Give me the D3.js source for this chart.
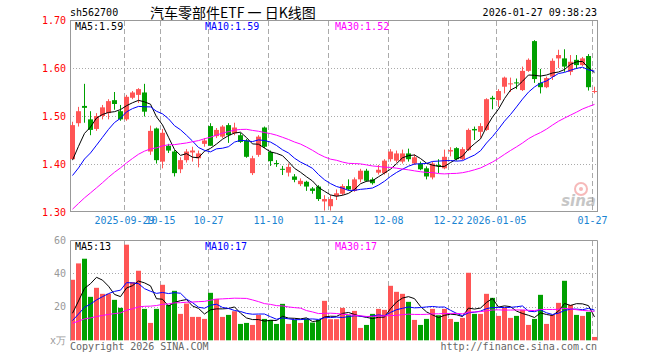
<!DOCTYPE html>
<html>
<head>
<meta charset="utf-8">
<script src="https://cdn.jsdelivr.net/npm/d3@7"></script>
<style>
  body { margin: 0; background: #fff; }
  svg text { font-family: "DejaVu Sans Mono", monospace; font-size: 10px; }
</style>
</head>
<body>
<div id="chart"></div>
<script>
'use strict';

// trading days shown
const dates = [
  '2025-09-16','2025-09-17','2025-09-18','2025-09-19','2025-09-22','2025-09-23','2025-09-24','2025-09-25','2025-09-26',
  '2025-09-29','2025-09-30','2025-10-09','2025-10-10','2025-10-13','2025-10-14','2025-10-15','2025-10-16','2025-10-17',
  '2025-10-20','2025-10-21','2025-10-22','2025-10-23','2025-10-24','2025-10-27','2025-10-28','2025-10-29','2025-10-30',
  '2025-10-31','2025-11-03','2025-11-04','2025-11-05','2025-11-06','2025-11-07','2025-11-10','2025-11-11','2025-11-12',
  '2025-11-13','2025-11-14','2025-11-17','2025-11-18','2025-11-19','2025-11-20','2025-11-21','2025-11-24','2025-11-25',
  '2025-11-26','2025-11-27','2025-11-28','2025-12-01','2025-12-02','2025-12-03','2025-12-04','2025-12-05','2025-12-08',
  '2025-12-09','2025-12-10','2025-12-11','2025-12-12','2025-12-15','2025-12-16','2025-12-17','2025-12-18','2025-12-19',
  '2025-12-22','2025-12-23','2025-12-24','2025-12-25','2025-12-26','2025-12-29','2025-12-30','2025-12-31','2026-01-05',
  '2026-01-06','2026-01-07','2026-01-08','2026-01-09','2026-01-12','2026-01-13','2026-01-14','2026-01-15','2026-01-16',
  '2026-01-19','2026-01-20','2026-01-21','2026-01-22','2026-01-23','2026-01-26','2026-01-27'
];

const opens = [
  1.410,1.485,1.521,1.493,1.473,1.500,1.506,1.533,1.510,1.493,1.538,1.544,1.549,1.426,1.474,1.405,1.438,1.426,
  1.389,1.408,1.424,1.412,1.442,1.479,1.458,1.457,1.481,1.464,1.460,1.449,1.381,1.419,1.476,1.425,1.402,1.390,
  1.382,1.374,1.358,1.363,1.349,1.353,1.322,1.312,1.333,1.338,1.354,1.344,1.368,1.386,1.368,1.382,1.381,1.410,
  1.407,1.405,1.422,1.401,1.401,1.391,1.372,1.398,1.391,1.426,1.433,1.410,1.429,1.473,1.467,1.471,1.538,1.533,
  1.561,1.566,1.570,1.554,1.594,1.656,1.569,1.560,1.582,1.620,1.620,1.592,1.617,1.606,1.625,1.550
];
const highs = [
  1.488,1.519,1.567,1.510,1.506,1.523,1.535,1.550,1.523,1.544,1.552,1.558,1.567,1.480,1.476,1.473,1.442,1.429,
  1.414,1.431,1.436,1.428,1.454,1.485,1.475,1.481,1.485,1.486,1.465,1.452,1.417,1.460,1.478,1.428,1.408,1.396,
  1.401,1.379,1.370,1.365,1.352,1.356,1.335,1.335,1.347,1.358,1.368,1.372,1.390,1.390,1.372,1.398,1.410,1.431,
  1.428,1.430,1.432,1.420,1.405,1.395,1.405,1.410,1.430,1.435,1.435,1.435,1.474,1.478,1.485,1.537,1.542,1.556,
  1.582,1.580,1.578,1.603,1.620,1.658,1.598,1.582,1.620,1.638,1.639,1.627,1.627,1.623,1.629,1.561
];
const lows = [
  1.410,1.478,1.486,1.460,1.469,1.493,1.493,1.513,1.490,1.490,1.535,1.527,1.499,1.419,1.401,1.391,1.423,1.374,
  1.381,1.403,1.405,1.393,1.436,1.438,1.454,1.454,1.444,1.460,1.444,1.413,1.377,1.415,1.433,1.396,1.394,1.377,
  1.374,1.362,1.354,1.344,1.338,1.323,1.303,1.303,1.325,1.335,1.345,1.342,1.362,1.363,1.357,1.378,1.378,1.405,
  1.403,1.401,1.405,1.398,1.387,1.368,1.368,1.381,1.389,1.416,1.407,1.408,1.427,1.450,1.455,1.469,1.514,1.519,
  1.547,1.550,1.556,1.552,1.592,1.569,1.547,1.558,1.575,1.600,1.592,1.585,1.598,1.604,1.553,1.547
];
const closes = [
  1.481,1.510,1.517,1.471,1.500,1.518,1.531,1.525,1.493,1.540,1.549,1.556,1.509,1.469,1.408,1.465,1.428,1.381,
  1.408,1.426,1.428,1.422,1.449,1.438,1.471,1.478,1.460,1.476,1.446,1.415,1.412,1.457,1.436,1.406,1.400,1.388,
  1.394,1.367,1.365,1.353,1.344,1.327,1.327,1.327,1.339,1.354,1.347,1.368,1.386,1.365,1.360,1.388,1.407,1.426,
  1.422,1.422,1.410,1.414,1.389,1.374,1.401,1.396,1.415,1.429,1.410,1.431,1.471,1.470,1.479,1.535,1.535,1.552,
  1.580,1.568,1.568,1.594,1.617,1.577,1.560,1.579,1.615,1.627,1.603,1.613,1.606,1.620,1.560,1.552
];
// volume, 10k lots
const volumes = [
  36.2,46.0,48.8,26.0,31.4,27.8,27.8,24.2,19.4,57.2,34.8,41.6,18.8,10.4,18.8,33.2,21.2,29.6,
  15.8,22.0,14.0,14.0,12.8,28.4,24.8,14.0,15.2,17.4,9.8,10.4,9.2,15.2,12.8,12.2,9.8,21.8,
  9.8,12.2,10.4,13.0,10.6,12.2,23.6,12.6,12.6,19.4,15.0,17.6,7.4,9.2,15.8,18.8,18.2,32.6,
  29.0,27.8,23.0,12.2,9.2,12.8,18.8,15.0,18.8,12.8,11.0,13.4,40.4,15.8,15.8,27.8,25.4,14.6,
  19.4,13.4,14.6,18.2,9.2,12.8,27.2,9.8,15.2,22.4,35.6,21.2,15.2,14.6,17.0,2.0
];

// the 29 sessions before the window, only needed for the moving averages
const closesBefore = [
  1.152,1.168,1.161,1.183,1.197,1.192,1.214,1.219,1.228,1.272,1.291,1.315,1.328,1.344,1.339,
  1.361,1.372,1.356,1.374,1.351,1.352,1.331,1.345,1.338,1.354,1.366,1.382,1.405,1.406
];
const volumesBefore = [
  7.5,9.1,8.4,6.8,7.9,10.2,8.8,7.1,8.6,9.4,7.7,8.3,7.2,8.0,11.4,
  13.8,10.9,12.6,14.1,10.2,6.9,8.2,7.1,6.5,8.3,9.6,10.8,12.1,12.3
];

const tickDates = ['2025-09-29','2025-10-15','2025-10-27','2025-11-10','2025-11-24','2025-12-08','2025-12-22','2026-01-05','2026-01-27'];
const tickLabels = ['2025-09-29','10-15','10-27','11-10','11-24','12-08','12-22','2026-01-05','01-27'];
const priceTicks = [1.30, 1.40, 1.50, 1.60, 1.70];
const volTicks = [20, 40, 60];

const maPeriods = [5, 10, 30];
const maColors = ['#000000', '#0000ff', '#ff00ff'];
const priceMaLabels = ['1.59', '1.59', '1.52'];
const volMaLabels = ['13', '17', '17'];

const RED = '#ff5555';
const GREEN = '#00a000';
const GRID = '#aaaaaa';
const FRAME = '#999999';

// moving average over the window, using the earlier sessions for the first points
function movingAvg(before, values, n) {
  const all = before.concat(values);
  return values.map((v, i) => d3.mean(all.slice(before.length + i - n + 1, before.length + i + 1)));
}

const svg = d3.select('#chart')
  .append('svg')
    .attr('width', 660)
    .attr('height', 360);

const x = d3.scaleBand()
    .domain(d3.range(dates.length))
    .range([70, 70 + 6 * dates.length]);
const y = d3.scaleLinear().domain([1.30, 1.70]).range([212, 20]);
const yv = d3.scaleLinear().domain([0, 60]).range([340.3, 240]);

const left = 70, right = 597;
const mid = i => x(i) + 2.5;
const up = i => closes[i] >= opens[i];

// header
svg.append('text').attr('x', 70).attr('y', 16).attr('fill', '#000').text('sh562700');
svg.append('text')
    .attr('x', 150).attr('y', 18)
    .style('font-family', '"Noto Sans CJK SC", sans-serif')
    .style('font-size', '14px')
    .attr('fill', '#000')
    .text('汽车零部件ETF 一 日K线图');
svg.append('text')
    .attr('x', right).attr('y', 16)
    .attr('text-anchor', 'end')
    .attr('fill', '#000')
    .text('2026-01-27 09:38:23');

// ---- price panel ----
const main = svg.append('g');

main.selectAll('.hgrid')
  .data(priceTicks.slice(1, -1))
  .join('line')
    .attr('x1', left).attr('x2', right)
    .attr('y1', d => Math.round(y(d)) + 0.5).attr('y2', d => Math.round(y(d)) + 0.5)
    .attr('stroke', GRID).attr('stroke-dasharray', '1,2');

const tickIdx = tickDates.map(d => dates.indexOf(d));

main.selectAll('.vgrid')
  .data(tickIdx)
  .join('line')
    .attr('x1', i => x(i) + 0.5).attr('x2', i => x(i) + 0.5)
    .attr('y1', 21).attr('y2', 211)
    .attr('stroke', GRID).attr('stroke-dasharray', '5,3');

main.append('rect')
    .attr('x', left + 0.5).attr('y', 20.5)
    .attr('width', right - left).attr('height', 191)
    .attr('fill', 'none').attr('stroke', FRAME);

main.selectAll('.ylab')
  .data(priceTicks)
  .join('text')
    .attr('x', 66).attr('y', d => y(d) + 3.5)
    .attr('text-anchor', 'end')
    .attr('fill', '#ff0000')
    .text(d => d.toFixed(2));

main.selectAll('.xlab')
  .data(tickIdx)
  .join('text')
    .attr('x', i => x(i) + 0.5).attr('y', 224)
    .attr('text-anchor', 'middle')
    .attr('fill', '#1a84d2')
    .text((d, k) => tickLabels[k]);

// sina mark
const logo = main.append('g').attr('opacity', 0.55);
logo.append('circle').attr('cx', 581).attr('cy', 189).attr('r', 6)
    .attr('fill', 'none').attr('stroke', '#f08080').attr('stroke-width', 2);
logo.append('circle').attr('cx', 581).attr('cy', 189).attr('r', 2).attr('fill', '#f08080');
logo.append('text').attr('x', 596).attr('y', 206).attr('text-anchor', 'end')
    .style('font-family', '"DejaVu Sans", sans-serif')
    .style('font-size', '15px').style('font-weight', 'bold').style('font-style', 'italic')
    .attr('fill', '#999').text('sina');

// candles
const candles = main.selectAll('.candle')
  .data(d3.range(dates.length))
  .join('g');

candles.append('line')
    .attr('x1', i => mid(i)).attr('x2', i => mid(i))
    .attr('y1', i => y(highs[i])).attr('y2', i => y(lows[i]))
    .attr('stroke', i => up(i) ? RED : GREEN);

candles.append('rect')
    .attr('x', i => x(i))
    .attr('y', i => y(Math.max(opens[i], closes[i])))
    .attr('width', 5)
    .attr('height', i => Math.max(1, Math.abs(y(opens[i]) - y(closes[i]))))
    .attr('fill', i => up(i) ? RED : GREEN);

// moving averages
const priceLine = d3.line().x((d, i) => mid(i)).y(d => y(d));
maPeriods.forEach((n, k) => {
  main.append('path')
      .attr('d', priceLine(movingAvg(closesBefore, closes, n)))
      .attr('fill', 'none')
      .attr('stroke', maColors[k])
      .attr('stroke-width', 1);
  main.append('text')
      .attr('x', 75 + k * 130).attr('y', 30)
      .attr('fill', maColors[k])
      .text(`MA${n}:${priceMaLabels[k]}`);
});

// ---- volume panel ----
const vol = svg.append('g');

vol.selectAll('.hgrid')
  .data(volTicks.slice(0, -1))
  .join('line')
    .attr('x1', left).attr('x2', right)
    .attr('y1', d => Math.round(yv(d)) + 0.5).attr('y2', d => Math.round(yv(d)) + 0.5)
    .attr('stroke', GRID).attr('stroke-dasharray', '1,2');

vol.selectAll('.vgrid')
  .data(tickIdx)
  .join('line')
    .attr('x1', i => x(i) + 0.5).attr('x2', i => x(i) + 0.5)
    .attr('y1', 241).attr('y2', 340)
    .attr('stroke', GRID).attr('stroke-dasharray', '5,3');

vol.selectAll('.bar')
  .data(d3.range(dates.length))
  .join('rect')
    .attr('x', i => x(i))
    .attr('y', i => yv(volumes[i]))
    .attr('width', 5)
    .attr('height', i => yv(0) - yv(volumes[i]))
    .attr('fill', i => up(i) ? RED : GREEN);

const volLine = d3.line().x((d, i) => mid(i)).y(d => yv(d));
maPeriods.forEach((n, k) => {
  vol.append('path')
      .attr('d', volLine(movingAvg(volumesBefore, volumes, n)))
      .attr('fill', 'none')
      .attr('stroke', maColors[k])
      .attr('stroke-width', 1);
  vol.append('text')
      .attr('x', 75 + k * 130).attr('y', 249.5)
      .attr('fill', maColors[k])
      .text(`MA${n}:${volMaLabels[k]}`);
});

// volume frame: open at the bottom
vol.append('path')
    .attr('d', `M${left + 0.5},340.5V240.5H${right + 0.5}V340.5`)
    .attr('fill', 'none').attr('stroke', FRAME);

vol.selectAll('.ylab')
  .data(volTicks)
  .join('text')
    .attr('x', 66).attr('y', d => yv(d) + 3.5)
    .attr('text-anchor', 'end')
    .attr('fill', '#999')
    .text(d => d);
vol.append('text')
    .attr('x', 66).attr('y', 344)
    .attr('text-anchor', 'end')
    .attr('fill', '#999')
    .text('x万');

// footer
svg.append('text').attr('x', 70).attr('y', 350).attr('fill', '#666').text('Copyright 2026 SINA.COM');
svg.append('text').attr('x', right).attr('y', 350).attr('text-anchor', 'end').attr('fill', '#666')
    .text('http://finance.sina.com.cn');
</script>
</body>
</html>
